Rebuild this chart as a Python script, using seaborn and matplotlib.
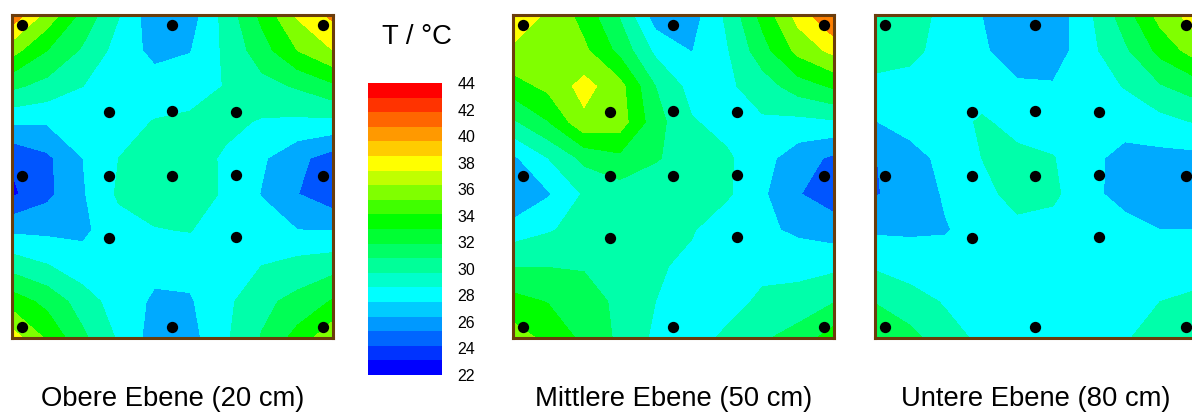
"""
Temperature fields on three levels with the sensor positions and a shared scale.
"""

import numpy as np
import matplotlib
matplotlib.use("Agg")
import matplotlib.pyplot as plt
from matplotlib.colors import ListedColormap
import pandas as pd
import seaborn as sns

# Temperatures per grid column (left to right), each listed top to bottom
OBERE = [
    [41.5, 36.8, 32.4, 28.3, 24.2, 23.6, 27.6, 31.2, 35.1, 39.0],
    [37.3, 34.0, 31.3, 28.2, 25.6, 25.5, 27.5, 30.1, 33.4, 35.6],
    [33.4, 31.7, 30.0, 28.5, 28.0, 27.8, 27.6, 28.8, 31.0, 32.4],
    [30.1, 29.2, 28.6, 29.2, 30.0, 30.3, 29.2, 28.8, 29.0, 29.7],
    [26.6, 27.4, 28.9, 30.1, 30.9, 30.9, 29.9, 28.5, 27.7, 27.1],
    [27.0, 27.9, 29.1, 30.4, 30.9, 30.7, 30.1, 28.6, 27.8, 27.3],
    [30.75, 30.4, 30.1, 30.5, 29.7, 29.8, 28.6, 28.7, 29.5, 29.7],
    [34.5, 33.1, 31.3, 29.8, 28.3, 27.9, 28.9, 30.0, 31.5, 32.1],
    [38.3, 36.0, 32.2, 29.6, 26.5, 26.05, 28.0, 30.7, 32.6, 34.7],
    [40.5, 38.0, 33.6, 29.5, 25.1, 24.6, 27.9, 31.2, 34.2, 37.5],
]
MITTLERE = [
    [39.5, 37.7, 35.1, 31.6, 27.6, 25.8, 28.9, 31.9, 34.7, 37.0],
    [37.7, 36.9, 36.5, 33.9, 30.0, 27.8, 29.8, 31.9, 33.9, 35.4],
    [35.2, 36.4, 38.7, 37.5, 32.5, 30.2, 30.7, 31.8, 33.0, 33.5],
    [31.8, 33.4, 36.7, 37.0, 33.5, 31.0, 30.6, 30.9, 31.5, 31.6],
    [26.9, 29.5, 32.0, 32.8, 32.2, 30.6, 30.4, 30.3, 30.0, 29.6],
    [27.0, 27.9, 29.3, 30.2, 31.0, 30.9, 30.2, 29.5, 29.0, 28.8],
    [30.4, 29.8, 29.6, 29.3, 30.3, 30.3, 28.7, 28.3, 29.0, 30.5],
    [34.7, 33.2, 31.0, 29.7, 28.7, 28.3, 28.4, 29.3, 30.5, 31.7],
    [38.8, 36.6, 33.0, 29.4, 26.9, 26.1, 27.6, 29.3, 30.8, 32.8],
    [42.3, 38.6, 34.3, 29.7, 25.6, 24.9, 27.0, 29.5, 31.9, 35.0],
]
UNTERE = [
    [31.5, 30.7, 29.6, 27.9, 25.9, 25.8, 27.7, 29.7, 31.9, 34.0],
    [30.9, 30.6, 29.2, 28.8, 27.2, 27.0, 27.7, 29.1, 30.8, 32.6],
    [29.4, 29.1, 28.8, 28.6, 28.6, 28.2, 27.9, 28.6, 29.8, 30.7],
    [28.0, 28.3, 28.5, 30.4, 30.0, 29.2, 28.6, 28.4, 28.4, 29.6],
    [25.9, 26.9, 28.3, 29.0, 30.7, 30.9, 29.3, 28.7, 28.5, 28.4],
    [26.6, 26.8, 28.2, 28.9, 30.1, 30.4, 29.2, 28.6, 28.4, 28.5],
    [29.6, 29.4, 28.9, 28.5, 28.4, 28.5, 28.6, 28.6, 28.6, 28.7],
    [33.0, 31.6, 30.1, 28.6, 27.5, 27.3, 28.7, 28.7, 28.7, 29.7],
    [36.8, 34.6, 31.8, 29.3, 27.4, 27.1, 28.0, 28.8, 30.0, 31.2],
    [39.0, 37.0, 33.0, 30.1, 27.4, 27.2, 28.0, 28.9, 30.5, 31.5],
]
TITLES = ["Obere Ebene (20 cm)", "Mittlere Ebene (50 cm)", "Untere Ebene (80 cm)"]

# Sensor positions in grid units
SENSOR_X = [0.28, 4.49, 8.72, 2.72, 4.49, 6.28, 0.28, 2.72, 4.49, 6.28, 8.72, 2.72, 6.28, 0.28, 4.49, 8.72]
SENSOR_Y = [0.28, 0.28, 0.28, 2.71, 2.68, 2.71, 4.49, 4.49, 4.49, 4.46, 4.49, 6.22, 6.2, 8.71, 8.71, 8.71]

LEVELS = [22, 24, 26, 28, 30, 32, 34, 36, 38, 40, 42, 44]
FIELD_COLORS = ["#0000ff", "#0055ff", "#00aaff", "#00ffff", "#00ffaa", "#00ff55",
                "#00ff00", "#80ff00", "#ffff00", "#ff8000", "#ff0000"]

SCALE_TICKS = [44, 42, 40, 38, 36, 34, 32, 30, 28, 26, 24, 22]
SCALE_STEPS = [43.45, 42.35, 41.25, 40.15, 39.05, 37.95, 36.85, 35.75, 34.65, 33.55,
               32.45, 31.35, 30.25, 29.15, 28.05, 26.95, 25.85, 24.75, 23.65, 22.55]
SCALE_COLORS = ["#0000ff", "#0033ff", "#0066ff", "#0099ff", "#00ccff", "#00ffff", "#00ffcc",
                "#00ff99", "#00ff66", "#00ff33", "#00ff00", "#40ff00", "#80ff00", "#c0ff00",
                "#ffff00", "#ffcc00", "#ff9900", "#ff6600", "#ff3300", "#ff0000"]

sns.set_theme(style="white")
plt.rcParams["font.family"] = ["Liberation Sans", "DejaVu Sans"]

W, H = 1192, 412
fig = plt.figure(figsize=(W / 100, H / 100), dpi=100)


def box(left, top, right, bottom):
    """Axes rectangle from pixel edges, origin top left."""
    return [left / W, 1 - bottom / H, (right - left) / W, (bottom - top) / H]


sensors = pd.DataFrame({"x": SENSOR_X, "y": SENSOR_Y})
grid = np.arange(10)

for field, title, left in zip([OBERE, MITTLERE, UNTERE], TITLES, [11.5, 512.5, 874.5]):
    ax = fig.add_axes(box(left, 14.5, left + 321.5, 337.5))
    ax.contourf(grid, grid, np.array(field).T, levels=LEVELS, colors=FIELD_COLORS)
    sns.scatterplot(data=sensors, x="x", y="y", ax=ax, color="black", s=66,
                    linewidth=0, legend=False, zorder=3, clip_on=False)
    ax.set_xlim(0, 9)
    ax.set_ylim(9, 0)
    ax.set_xticks([])
    ax.set_yticks([])
    ax.set_xlabel("")
    ax.set_ylabel("")
    for spine in ax.spines.values():
        spine.set_visible(True)
        spine.set_color("#6b3d0c")
        spine.set_linewidth(2.2)
    fig.text((left + 161.5) / W, 1 - 399 / H, title, ha="center", va="center",
             fontsize=19.7, color="black")

# Colour scale as a one-column heatmap
cax = fig.add_axes(box(368, 83, 442, 375))
sns.heatmap(pd.DataFrame({"T": SCALE_STEPS}), ax=cax, cmap=ListedColormap(SCALE_COLORS),
            vmin=22, vmax=44, cbar=False, xticklabels=False, yticklabels=False)
cax.yaxis.tick_right()
cax.set_yticks([(44 - t) / 22 * 20 for t in SCALE_TICKS])
cax.set_yticklabels(SCALE_TICKS, rotation=0, fontsize=11.5, color="black")
cax.tick_params(axis="y", length=0, pad=11)
cax.set_ylabel("")

fig.text(417 / W, 1 - 37 / H, "T / °C", ha="center", va="center", fontsize=19.8, color="black")

fig.savefig("out.png", dpi=100)
plt.close(fig)
